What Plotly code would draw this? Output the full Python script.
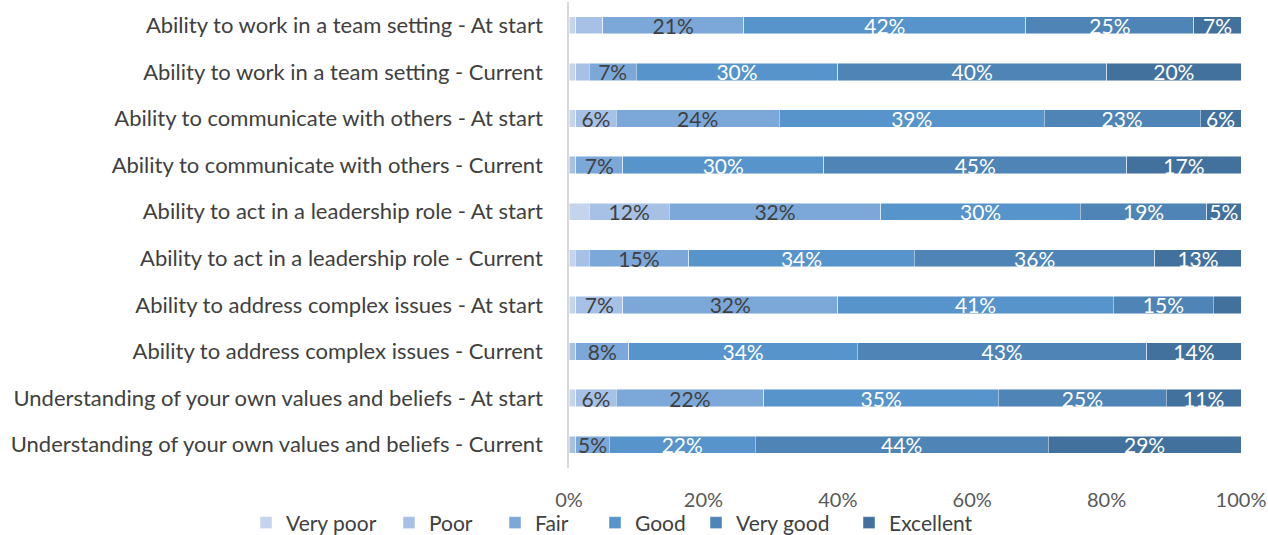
import plotly.graph_objects as go

categories = [
    "Ability to work in a team setting - At start",
    "Ability to work in a team setting - Current",
    "Ability to communicate with others - At start",
    "Ability to communicate with others - Current",
    "Ability to act in a leadership role - At start",
    "Ability to act in a leadership role - Current",
    "Ability to address complex issues - At start",
    "Ability to address complex issues - Current",
    "Understanding of your own values and beliefs - At start",
    "Understanding of your own values and beliefs - Current",
]

series_names = ["Very poor", "Poor", "Fair", "Good", "Very good", "Excellent"]

very_poor = [1.0, 1.0, 1.0, 0.0, 3.0, 0.9, 1.0, 0.0, 1.0, 0.0]
poor      = [4.0, 2.0, 6.0, 1.0, 11.9, 2.1, 7.0, 1.0, 6.0, 1.0]
fair      = [21.0, 7.0, 24.3, 7.0, 31.5, 14.8, 32.0, 7.9, 22.0, 5.0]
good      = [42.0, 30.0, 39.4, 29.9, 29.7, 33.6, 41.0, 34.0, 34.9, 21.7]
very_good = [25.0, 40.0, 23.2, 45.1, 18.8, 35.8, 14.9, 43.1, 25.0, 43.6]
excellent = [7.0, 20.0, 6.1, 17.0, 5.1, 12.8, 4.1, 14.0, 11.1, 28.7]

series_values = [very_poor, poor, fair, good, very_good, excellent]

colors = ["#c3d4ec", "#a6c1e5", "#7ca8d9", "#5694cb", "#4e84b6", "#43719d"]
label_colors = ["#404040", "#404040", "#404040", "#ffffff", "#ffffff", "#ffffff"]

x_ticks = [0, 20, 40, 60, 80, 100]
x_tick_labels = ["0%", "20%", "40%", "60%", "80%", "100%"]

FONT = "Lato, 'Open Sans', sans-serif"

# page geometry (px)
W, H = 1268, 535
M_L, M_R, M_T, M_B = 569, 27, 2, 67
PLOT_W = W - M_L - M_R

# left edge (px) of each legend entry along the bottom row
legend_px = [246, 389, 495, 595, 696, 849]

fig = go.Figure()
legend_layouts = {}
for i, (name, vals, col, lcol) in enumerate(zip(series_names, series_values, colors, label_colors)):
    texts = [f"{round(v)}%" if round(v) >= 5 else "" for v in vals]
    legend_id = "legend" if i == 0 else f"legend{i + 1}"
    fig.add_trace(go.Bar(
        name=name,
        y=categories,
        x=vals,
        orientation="h",
        marker=dict(color=col, line=dict(color="rgba(255,255,255,0.6)", width=0.8)),
        text=texts,
        textposition="inside",
        insidetextanchor="middle",
        textangle=0,
        textfont=dict(family=FONT, size=21, color=lcol),
        hoverinfo="skip",
        legend=legend_id,
    ))
    legend_layouts[legend_id] = dict(
        orientation="h",
        x=(legend_px[i] - M_L) / PLOT_W,
        xanchor="left",
        y=-0.074,
        yanchor="top",
        font=dict(family=FONT, size=21, color="#404040"),
        itemwidth=30,
        bgcolor="rgba(0,0,0,0)",
    )

fig.update_layout(
    barmode="stack",
    bargap=0.63,
    width=W,
    height=H,
    margin=dict(l=M_L, r=M_R, t=M_T, b=M_B, autoexpand=False),
    paper_bgcolor="white",
    plot_bgcolor="white",
    font=dict(family=FONT, size=22, color="#404040"),
    uniformtext=dict(minsize=21, mode="show"),
    showlegend=True,
    xaxis=dict(
        range=[0, 100],
        tickvals=x_ticks,
        ticktext=x_tick_labels,
        showgrid=False,
        zeroline=False,
        showline=False,
        ticks="",
        ticklabelstandoff=18,
        tickfont=dict(family=FONT, size=20, color="#595959"),
        fixedrange=True,
    ),
    yaxis=dict(
        autorange="reversed",
        showgrid=False,
        showline=True,
        linecolor="#d9d9d9",
        linewidth=1.5,
        ticks="",
        ticklabelstandoff=20,
        tickfont=dict(family=FONT, size=22, color="#404040"),
        fixedrange=True,
    ),
    **legend_layouts,
)

fig.write_html("out.html")
